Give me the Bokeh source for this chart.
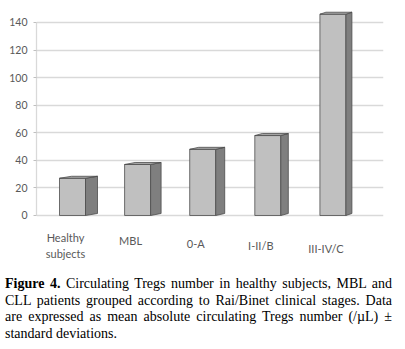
from bokeh.plotting import figure
from bokeh.models import Range1d, FixedTicker, Div
from bokeh.layouts import column
from bokeh.embed import file_html
from bokeh.resources import INLINE
from bokeh.core.properties import value

# ---- data ----
categories = ["Healthy\nsubjects", "MBL", "0-A", "I-II/B", "III-IV/C"]
tregs = [27, 37, 48, 58, 146]
y_ticks = [0, 20, 40, 60, 80, 100, 120, 140]
caption_lines = [
    "<b>Figure 4.</b> Circulating Tregs number in healthy subjects, MBL and",
    "CLL patients grouped according to Rai/Binet clinical stages. Data",
    "are expressed as mean absolute circulating Tregs number (/&micro;L) &plusmn;",
    "standard deviations.",
]

# ---- geometry helpers (style) ----
PX_X = 65.1      # pixels per category unit
PX_Y = 1.3786    # pixels per value unit
xs = list(range(len(categories)))
half_w = 13 / PX_X
dy = 2 / PX_Y

p = figure(width=405, height=265,
           x_range=Range1d(-0.553, 4.777), y_range=Range1d(-36.27, 152.33),
           x_axis_location=None, output_backend="svg", toolbar_location=None,
           min_border_left=36, min_border_right=22, min_border_top=5,
           min_border_bottom=0)
p.outline_line_color = None
p.background_fill_color = "white"
p.border_fill_color = "white"
p.xgrid.visible = False
p.ygrid.grid_line_color = "#d9d9d9"
p.ygrid.grid_line_width = 1.3

ax = p.yaxis[0]
ax.ticker = FixedTicker(ticks=y_ticks)
ax.bounds = (0, 140)
ax.axis_line_color = "#d9d9d9"
ax.axis_line_width = 1.3
ax.major_tick_line_color = "#bfbfbf"
ax.major_tick_out = 3
ax.major_tick_in = 0
ax.minor_tick_line_color = None
ax.major_label_text_font = "Lato"
ax.major_label_text_font_size = "10.5px"
ax.major_label_text_color = "#595959"
ax.major_label_standoff = 6

# bars: front faces
left = [x - half_w for x in xs]
right = [x + half_w for x in xs]
p.quad(left=left, right=right, bottom=0, top=tregs,
       fill_color="#c0c0c0", line_color="#4d4d4d", line_width=0.8)

# side and top faces (pseudo 3D)
side_xs, side_ys, top_xs, top_ys = [], [], [], []
for i, (x, v) in enumerate(zip(xs, tregs)):
    dx = (12 - 1.5 * i) / PX_X
    r = x + half_w
    l = x - half_w
    side_xs.append([r, r + dx, r + dx, r])
    side_ys.append([0, dy, v + dy, v])
    top_xs.append([l, r, r + dx, l + dx])
    top_ys.append([v, v, v + dy, v + dy])
p.patches(side_xs, side_ys, fill_color="#7f7f7f", line_color="#4d4d4d", line_width=0.8)
p.patches(top_xs, top_ys, fill_color="#a6a6a6", line_color="#4d4d4d", line_width=0.8)

# category labels
lab_x = [x - 7 / PX_X for x in xs]
lab_y = [-(15.5 + 2.8 * i) / PX_Y for i in xs]
p.text(x=lab_x, y=lab_y, text=categories, text_align="center",
       text_baseline="top", text_font=value("Lato"), text_font_size="11px",
       text_color="#595959", text_line_height=1.2)

# caption
inner = []
for k, line in enumerate(caption_lines):
    if k < len(caption_lines) - 1:
        st = "text-align:justify;text-align-last:justify;"
    else:
        st = "text-align:left;"
    inner.append(f'<div style="{st}">{line}</div>')
html = ('<div style="font-family:\'Liberation Serif\',\'Times New Roman\',serif;'
        'font-size:14px;line-height:16.7px;color:#000;padding:11px 0 0 5px;'
        'width:392px;">' + "".join(inner) + '</div>')
cap = Div(text=html, width=405, height=84, margin=(0, 0, 0, 0))

layout = column(p, cap, spacing=0)
open("out.html", "w").write(file_html(layout, INLINE))
